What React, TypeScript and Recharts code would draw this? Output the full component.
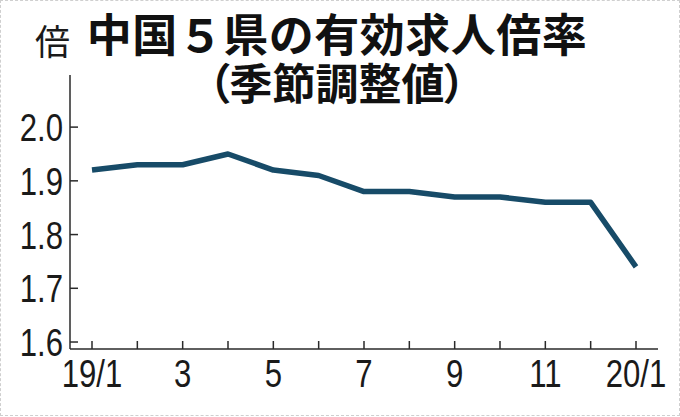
import React from 'react';
import { LineChart, Line, XAxis, YAxis } from 'recharts';

const months = ['19/1', '2', '3', '4', '5', '6', '7', '8', '9', '10', '11', '12', '20/1'];
const tickLabels = ['19/1', '', '3', '', '5', '', '7', '', '9', '', '11', '', '20/1'];
const ratio = [1.92, 1.93, 1.93, 1.95, 1.92, 1.91, 1.88, 1.88, 1.87, 1.87, 1.86, 1.86, 1.74];
const yTicks = [1.6, 1.7, 1.8, 1.9, 2.0];

const data = months.map((m, i) => ({ month: m, label: tickLabels[i], ratio: ratio[i] }));

const axisColor = '#2a2a2a';
const numFont = '"Liberation Sans", Arial, sans-serif';
const jpFont = '"Noto Sans CJK JP", "Noto Sans", sans-serif';

// narrow digits like the original condensed face
const NarrowText = ({ x, y, anchor, children }: any) => (
  <g transform={`translate(${x},${y}) scale(0.82,1)`}>
    <text x={0} y={0} textAnchor={anchor} fontSize={38} fontFamily={numFont} fill="#1a1a1a">
      {children}
    </text>
  </g>
);

const XTick = (props: any) => {
  const { x, y, index } = props;
  const label = tickLabels[index];
  return (
    <g>
      <line x1={x} x2={x} y1={y} y2={y - 8} stroke={axisColor} strokeWidth={1.5} />
      {label && (
        <NarrowText x={x} y={y + 38} anchor="middle">
          {label}
        </NarrowText>
      )}
    </g>
  );
};

const YTick = (props: any) => {
  const { x, y, payload } = props;
  return (
    <g>
      <line x1={x} x2={x + 8} y1={y} y2={y} stroke={axisColor} strokeWidth={1.5} />
      <NarrowText x={x - 7} y={y + 14} anchor="end">
        {Number(payload.value).toFixed(1)}
      </NarrowText>
    </g>
  );
};

const App: React.FC = () => {
  return (
    <div
      style={{
        position: 'absolute',
        left: 0,
        top: 0,
        width: 680,
        height: 417,
        background: '#fff',
        overflow: 'hidden',
      }}
    >
      <div
        style={{
          position: 'absolute',
          left: 0,
          top: 0,
          width: 678,
          height: 414,
          border: '1px dashed #cfcfcf',
        }}
      />
      <div style={{ position: 'absolute', left: 35, top: 18, fontFamily: jpFont, fontSize: 35, lineHeight: '44px', color: '#1a1a1a' }}>
        倍
      </div>
      <div
        style={{
          position: 'absolute',
          left: 37,
          width: 600,
          top: 10,
          textAlign: 'center',
          fontFamily: jpFont,
          fontWeight: 700,
          color: '#111',
          whiteSpace: 'nowrap',
        }}
      >
        <div style={{ fontSize: 45, lineHeight: '46px', letterSpacing: 0.5 }}>中国５県の有効求人倍率</div>
        <div style={{ fontSize: 43, lineHeight: '44px', marginTop: 3, fontFeatureSettings: '"palt"' }}>（季節調整値）</div>
      </div>
      <div style={{ position: 'absolute', left: 0, top: 0 }}>
        <LineChart width={680} height={417} data={data} margin={{ top: 75, right: 22, bottom: 8, left: 0 }}>
          <XAxis
            dataKey="month"
            interval={0}
            height={60}
            padding={{ left: 22, right: 22 }}
            tickSize={0}
            tickMargin={0}
            tickLine={false}
            axisLine={{ stroke: axisColor, strokeWidth: 1.5 }}
            tick={<XTick />}
          />
          <YAxis
            width={70}
            domain={[1.587, 2.097]}
            ticks={yTicks}
            allowDataOverflow
            tickSize={0}
            tickMargin={0}
            tickLine={false}
            axisLine={{ stroke: axisColor, strokeWidth: 1.5 }}
            tick={<YTick />}
          />
          <Line
            type="linear"
            dataKey="ratio"
            stroke="#174b68"
            strokeWidth={5.5}
            strokeLinejoin="round"
            dot={false}
            isAnimationActive={false}
          />
        </LineChart>
      </div>
    </div>
  );
};

export default App;
